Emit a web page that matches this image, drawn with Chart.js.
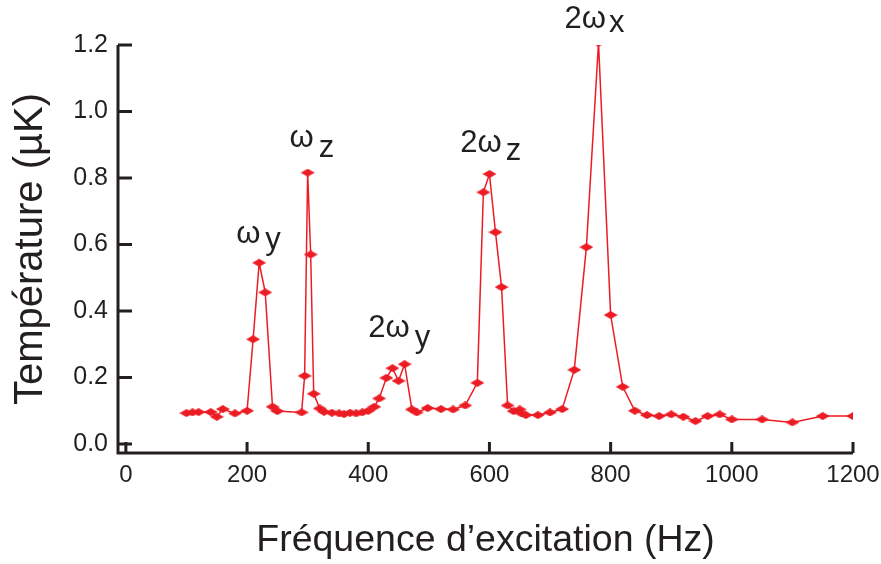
<!DOCTYPE html>
<html>
<head>
<meta charset="utf-8">
<script src="https://cdn.jsdelivr.net/npm/chart.js@4/dist/chart.umd.min.js"></script>
<style>
  html, body { margin: 0; padding: 0; background: #fff; }
  #wrap { width: 881px; height: 564px; position: relative; }
</style>
</head>
<body>
<div id="wrap"><canvas id="c"></canvas></div>
<script>
// Fréquence d'excitation (Hz)
const freqs = [
  100, 110, 120, 140, 150, 160, 180, 200, 210, 220, 230, 242, 250,
  290, 295, 300, 305, 310, 320, 327, 340, 352, 360, 370, 380, 390, 400,
  410, 418, 430, 440, 450, 460, 472, 480, 498, 520, 540, 560, 580, 590,
  600, 610, 620, 630, 640, 650, 653, 660, 680, 700, 720, 740, 760, 780,
  800, 820, 840, 860, 880, 900, 920, 940, 960, 980, 1000, 1050, 1100, 1150, 1200
];
// Température (µK)
const temps = [
  0.093, 0.095, 0.096, 0.096, 0.082, 0.105, 0.092, 0.100, 0.315, 0.545, 0.456, 0.112, 0.099,
  0.095, 0.205, 0.816, 0.570, 0.151, 0.107, 0.097, 0.094, 0.092, 0.090, 0.094, 0.092, 0.095, 0.100,
  0.112, 0.137, 0.199, 0.228, 0.190, 0.240, 0.104, 0.095, 0.108, 0.105, 0.104, 0.116, 0.184, 0.757,
  0.812, 0.637, 0.472, 0.116, 0.099, 0.104, 0.092, 0.087, 0.087, 0.095, 0.105, 0.223, 0.592, 1.207,
  0.388, 0.172, 0.100, 0.087, 0.084, 0.089, 0.082, 0.069, 0.084, 0.089, 0.074, 0.074, 0.065, 0.084, 0.084
];
const xTickValues = [0, 200, 400, 600, 800, 1000, 1200];
const yTickValues = [0, 0.2, 0.4, 0.6, 0.8, 1.0, 1.2];

// étiquettes des résonances (ancrage en coordonnées des données)
const peakLabels = [
  { main: 'ω', sub: 'y', f: 182, t: 0.605, gap: 5, drop: 6 },
  { main: 'ω', sub: 'z', f: 270, t: 0.893, gap: 5, drop: 10 },
  { main: '2ω', sub: 'y', f: 400, t: 0.322, gap: 5, drop: 10 },
  { main: '2ω', sub: 'z', f: 552, t: 0.878, gap: 4, drop: 8 },
  { main: '2ω', sub: 'x', f: 724, t: 1.250, gap: 3, drop: 4 }
];

const RED = '#ec1c24';
const INK = '#231f20';
const FONT = "'Liberation Sans', Arial, Helvetica, sans-serif";

// losange aplati pour les marqueurs
function diamond(w, h, color) {
  const c = document.createElement('canvas');
  c.width = w; c.height = h;
  const g = c.getContext('2d');
  g.fillStyle = color;
  g.beginPath();
  g.moveTo(w / 2, 0);
  g.lineTo(w, h / 2);
  g.lineTo(w / 2, h);
  g.lineTo(0, h / 2);
  g.closePath();
  g.fill();
  return c;
}

const axesPlugin = {
  id: 'axesPlugin',
  afterDatasetsDraw(chart) {
    const { ctx, chartArea: a, scales: { x, y } } = chart;
    ctx.save();
    ctx.strokeStyle = INK;
    ctx.lineWidth = 3;
    ctx.lineCap = 'butt';
    ctx.beginPath();
    ctx.moveTo(a.left, a.top);
    ctx.lineTo(a.left, a.bottom);
    ctx.lineTo(a.right, a.bottom);
    ctx.stroke();
    // graduations vers l'intérieur
    ctx.beginPath();
    yTickValues.forEach(v => {
      const py = y.getPixelForValue(v);
      ctx.moveTo(a.left, py);
      ctx.lineTo(a.left + 14, py);
    });
    xTickValues.forEach(v => {
      const px = x.getPixelForValue(v);
      ctx.moveTo(px, a.bottom);
      ctx.lineTo(px, a.bottom - 11);
    });
    ctx.stroke();

    // étiquettes ω
    ctx.fillStyle = INK;
    ctx.font = '31px ' + FONT;
    ctx.textBaseline = 'alphabetic';
    ctx.textAlign = 'left';
    peakLabels.forEach(l => {
      const px = x.getPixelForValue(l.f);
      const py = y.getPixelForValue(l.t);
      ctx.fillText(l.main, px, py);
      const w = ctx.measureText(l.main).width;
      ctx.fillText(l.sub, px + w + l.gap, py + l.drop);
    });
    ctx.restore();
  }
};

new Chart(document.getElementById('c'), {
  type: 'scatter',
  data: {
    datasets: [{
      data: freqs.map((f, i) => ({ x: f, y: temps[i] })),
      showLine: true,
      borderColor: RED,
      borderWidth: 1.5,
      pointStyle: diamond(14, 8, RED),
      pointRadius: 4,
      pointHoverRadius: 4,
      tension: 0
    }]
  },
  options: {
    responsive: true,
    maintainAspectRatio: false,
    animation: false,
    layout: { padding: { top: 45, right: 28, left: 0, bottom: 0 } },
    plugins: { legend: { display: false }, tooltip: { enabled: false } },
    scales: {
      x: {
        type: 'linear',
        min: -13,
        max: 1200,
        grid: { display: false, drawTicks: false },
        border: { display: false },
        afterBuildTicks: s => { s.ticks = xTickValues.map(v => ({ value: v })); },
        afterFit: s => { s.height = 111; s.paddingLeft = 0; s.paddingRight = 0; },
        ticks: {
          color: INK,
          padding: 8,
          font: { family: FONT, size: 24 },
          maxRotation: 0,
          callback: v => String(v)
        },
        title: {
          display: true,
          text: 'Fréquence d’excitation (Hz)',
          color: INK,
          font: { family: FONT, size: 37.5 },
          padding: { top: 0, bottom: 1 }
        }
      },
      y: {
        type: 'linear',
        min: -0.027,
        max: 1.2,
        grid: { display: false, drawTicks: false },
        border: { display: false },
        afterBuildTicks: s => { s.ticks = yTickValues.map(v => ({ value: v })); },
        afterFit: s => { s.width = 118; s.paddingTop = 0; s.paddingBottom = 0; },
        ticks: {
          color: INK,
          padding: 10,
          font: { family: FONT, size: 25 },
          callback: v => Number(v).toFixed(1)
        },
        title: {
          display: true,
          text: 'Température (µK)',
          color: INK,
          font: { family: FONT, size: 40 },
          padding: { top: 7, bottom: 0 }
        }
      }
    }
  },
  plugins: [axesPlugin]
});
</script>
</body>
</html>
